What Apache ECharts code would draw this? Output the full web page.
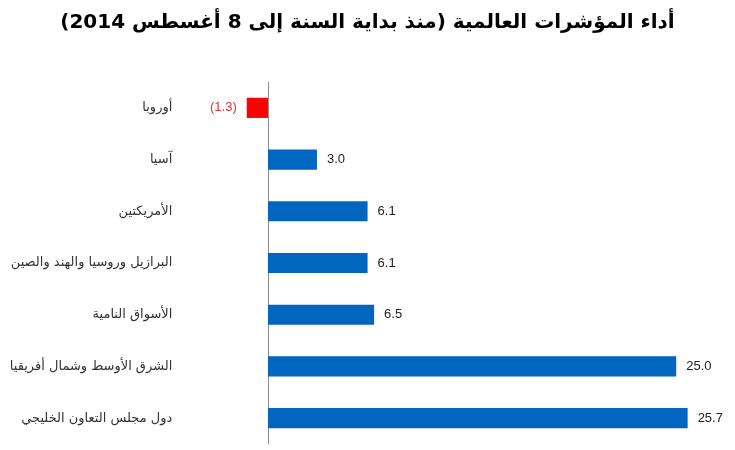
<!DOCTYPE html>
<html>
<head>
<meta charset="utf-8">
<script src="https://cdn.jsdelivr.net/npm/echarts@6/dist/echarts.min.js"></script>
<style>
  html, body { margin: 0; padding: 0; background: #fff; }
  #chart { width: 735px; height: 450px; }
</style>
</head>
<body>
<div id="chart"></div>
<script>
  // 数据
  var categories = ['أوروبا', 'آسيا', 'الأمريكتين', 'البرازيل وروسيا والهند والصين', 'الأسواق النامية', 'الشرق الأوسط وشمال أفريقيا', 'دول مجلس التعاون الخليجي'];
  var values = [-1.3, 3.0, 6.1, 6.1, 6.5, 25.0, 25.7];

  var chart = echarts.init(document.getElementById('chart'));

  chart.setOption({
      title: {
          text: 'أداء المؤشرات العالمية (منذ بداية السنة إلى 8 أغسطس 2014)',
          left: 'center',
          top: 8,
          textStyle: { fontSize: 20, fontWeight: 'bold', color: '#000', fontFamily: 'DejaVu Sans' }
      },
      grid: { left: 235.3, right: 9.8, top: 82, bottom: 6, outerBoundsMode: 'none', containLabel: false },
      xAxis: {
          type: 'value',
          min: -2,
          max: 28,
          axisLabel: { show: false },
          axisTick: { show: false },
          axisLine: { show: false },
          splitLine: { show: false }
      },
      yAxis: {
          type: 'category',
          inverse: true,
          data: categories,
          axisLine: { lineStyle: { color: '#8c8c8c', width: 1 } },
          axisTick: { show: false },
          axisLabel: { margin: 63, fontSize: 13, color: '#333', fontFamily: 'DejaVu Sans' }
      },
      series: [{
          type: 'bar',
          barCategoryGap: '61%',
          data: values.map(function (v) {
              var neg = v < 0;
              return {
                  value: v,
                  itemStyle: { color: neg ? '#ff0000' : '#0066c0' },
                  label: {
                      position: neg ? 'left' : 'right',
                      color: neg ? '#e03030' : '#222'
                  }
              };
          }),
          label: {
              show: true,
              distance: 10,
              fontSize: 13,
              fontFamily: 'Liberation Sans',
              formatter: function (p) {
                  return p.value < 0 ? '(' + Math.abs(p.value).toFixed(1) + ')' : p.value.toFixed(1);
              }
          }
      }]
  });
</script>
</body>
</html>
